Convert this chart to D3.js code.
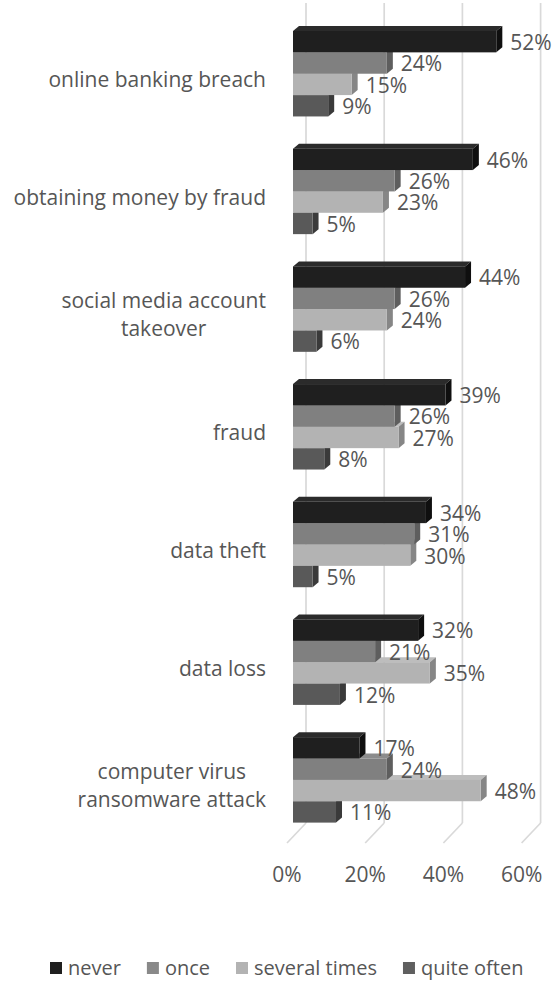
<!DOCTYPE html>
<html>
<head>
<meta charset="utf-8">
<script src="https://cdn.jsdelivr.net/npm/d3@7"></script>
<style>
  html, body { margin: 0; padding: 0; background: #ffffff; }
  svg { display: block; }
  text { font-family: "Open Sans", "DejaVu Sans", sans-serif; fill: #565656; }
</style>
</head>
<body>
<script>
// Survey results: how often each incident type was experienced (share of respondents)
const categories = [
  "online banking breach",
  "obtaining money by fraud",
  "social media account takeover",
  "fraud",
  "data theft",
  "data loss",
  "computer virus ransomware attack"
];
const seriesNames = ["never", "once", "several times", "quite often"];
const never        = [52, 46, 44, 39, 34, 32, 17];
const once         = [24, 26, 26, 26, 31, 21, 24];
const severalTimes = [15, 23, 24, 27, 30, 35, 48];
const quiteOften   = [ 9,  5,  6,  8,  5, 12, 11];
const tickValues = [0, 20, 40, 60];
const tickLabels = ["0%", "20%", "40%", "60%"];

const seriesValues = [never, once, severalTimes, quiteOften];
// front / top / side shades for each series
const palette = {
  "never":         { front: "#1f1f1f", top: "#2b2b2b", side: "#0f0f0f", key: "#1f1f1f" },
  "once":          { front: "#808080", top: "#8c8c8c", side: "#5e5e5e", key: "#898989" },
  "several times": { front: "#b3b3b3", top: "#bdbdbd", side: "#868686", key: "#b3b3b3" },
  "quite often":   { front: "#595959", top: "#666666", side: "#3a3a3a", key: "#5f5f5f" }
};

const W = 559, H = 984;
const FONT = 21;
const svg = d3.select("body").append("svg").attr("width", W).attr("height", H);

// front plane of the 3-D plot area
const x = d3.scaleLinear().domain([0, 60]).range([287, 521.6]);
const y = d3.scaleBand().domain(categories).range([31, 822.6]).paddingInner(0.274).paddingOuter(0);
const inner = d3.scaleBand().domain(seriesNames).range([0, y.bandwidth()]);

const wall = { dx: 19, dy: -20, top: 3, floor: 823 };   // back wall offset
const barShift = 6;                                    // bars sit slightly behind the front plane
const depth = { dx: 6, dy: -5 };                       // bar thickness

// back-wall gridlines and their run across the floor
const grid = svg.append("g").attr("stroke", "#d9d9d9").attr("stroke-width", 1.7).attr("fill", "none");
tickValues.forEach(t => {
  const xb = x(t) + wall.dx;
  grid.append("line").attr("x1", xb).attr("x2", xb).attr("y1", wall.top).attr("y2", wall.floor);
  grid.append("line").attr("x1", xb).attr("y1", wall.floor).attr("x2", x(t)).attr("y2", wall.floor - wall.dy);
});

// value axis labels
svg.append("g").selectAll("text").data(tickValues).join("text")
  .attr("x", d => x(d)).attr("y", 875).attr("dy", "0.35em")
  .attr("text-anchor", "middle").attr("font-size", FONT)
  .text((d, i) => tickLabels[i]);

// bars: draw the lowest series first so upper bars cover the hidden top faces
const barRows = [];
categories.forEach((c, ci) => {
  seriesNames.forEach((s, si) => {
    barRows.push({ cat: c, series: s, si, value: seriesValues[si][ci] });
  });
});
barRows.sort((a, b) => (categories.indexOf(a.cat) - categories.indexOf(b.cat)) || (b.si - a.si));

const bars = svg.append("g");
barRows.forEach(d => {
  const x0 = x(0) + barShift, x1 = x(d.value) + barShift;
  const y0 = y(d.cat) + inner(d.series), y1 = y0 + inner.bandwidth();
  const col = palette[d.series];
  const g = bars.append("g");
  g.append("path").attr("fill", col.top)
    .attr("d", `M${x0},${y0}L${x1},${y0}L${x1 + depth.dx},${y0 + depth.dy}L${x0 + depth.dx},${y0 + depth.dy}Z`);
  g.append("path").attr("fill", col.side)
    .attr("d", `M${x1},${y0}L${x1 + depth.dx},${y0 + depth.dy}L${x1 + depth.dx},${y1 + depth.dy}L${x1},${y1}Z`);
  g.append("rect").attr("fill", col.front)
    .attr("x", x0).attr("y", y0).attr("width", x1 - x0).attr("height", y1 - y0);
});

// value labels
svg.append("g").selectAll("text").data(barRows).join("text")
  .attr("x", d => x(d.value) + barShift + depth.dx + 8)
  .attr("y", d => y(d.cat) + inner(d.series) + inner.bandwidth() / 2 + 1)
  .attr("dy", "0.35em").attr("font-size", FONT)
  .text(d => d.value + "%");

// category labels, wrapped and right aligned as a block
const labelRight = 266, wrapWidth = 262, lineHeight = 28;
const catG = svg.append("g").attr("font-size", FONT);
categories.forEach(c => {
  const words = c.split(" ");
  const probe = catG.append("text");
  const lines = [];
  let cur = [];
  words.forEach(w => {
    const test = cur.concat([w]).join(" ");
    probe.text(test);
    if (cur.length && probe.node().getComputedTextLength() > wrapWidth) {
      lines.push(cur.join(" "));
      cur = [w];
    } else {
      cur.push(w);
    }
  });
  lines.push(cur.join(" "));
  let maxW = 0;
  lines.forEach(l => { probe.text(l); maxW = Math.max(maxW, probe.node().getComputedTextLength()); });
  probe.remove();
  const cy = y(c) + y.bandwidth() / 2 + 6;
  const cx = labelRight - maxW / 2;
  lines.forEach((l, i) => {
    catG.append("text")
      .attr("x", cx).attr("y", cy + (i - (lines.length - 1) / 2) * lineHeight)
      .attr("dy", "0.35em").attr("text-anchor", "middle")
      .text(l);
  });
});

// legend
const legend = svg.append("g").attr("font-size", 20);
let lx = 50;
const ly = 968;
seriesNames.forEach(s => {
  legend.append("rect").attr("x", lx).attr("y", ly - 6).attr("width", 12).attr("height", 12)
    .attr("fill", palette[s].key);
  const t = legend.append("text").attr("x", lx + 18).attr("y", ly).attr("dy", "0.35em").text(s);
  lx += 18 + t.node().getComputedTextLength() + 26;
});
</script>
</body>
</html>
